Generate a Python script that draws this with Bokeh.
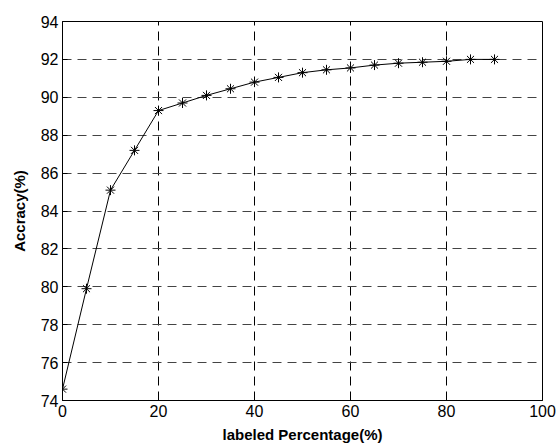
from bokeh.plotting import figure
from bokeh.models import Range1d, FixedTicker
from bokeh.embed import file_html
from bokeh.resources import INLINE

pct = [0, 5, 10, 15, 20, 25, 30, 35, 40, 45, 50, 55, 60, 65, 70, 75, 80, 85, 90]
acc = [74.6, 79.9, 85.1, 87.2, 89.3, 89.7, 90.1, 90.45, 90.8, 91.05, 91.3, 91.45,
       91.55, 91.7, 91.8, 91.85, 91.9, 92.0, 92.0]
xticks = [0, 20, 40, 60, 80, 100]
yticks = [74, 76, 78, 80, 82, 84, 86, 88, 90, 92, 94]

p = figure(width=556, height=445, output_backend="svg", toolbar_location=None,
           x_range=Range1d(0, 100), y_range=Range1d(74, 94),
           min_border_left=62, min_border_right=14, min_border_top=21, min_border_bottom=45)
p.background_fill_color = "white"
p.border_fill_color = "white"
p.outline_line_color = "black"
p.outline_line_width = 1

FONT = "Liberation Sans"
for ax, ticks in ((p.xaxis[0], xticks), (p.yaxis[0], yticks)):
    ax.ticker = FixedTicker(ticks=ticks)
    ax.major_tick_in = 5
    ax.major_tick_out = 0
    ax.minor_tick_line_color = None
    ax.axis_line_color = "black"
    ax.major_tick_line_color = "black"
    ax.major_label_text_font = FONT
    ax.major_label_text_font_size = "16px"
    ax.major_label_text_color = "black"
    ax.axis_label_text_font = FONT
    ax.axis_label_text_font_size = "15px"
    ax.axis_label_text_font_style = "bold"
    ax.axis_label_text_color = "black"

p.xaxis.major_label_standoff = 4
p.yaxis.major_label_standoff = 4
p.xaxis.axis_label = "labeled Percentage(%)"
p.yaxis.axis_label = "Accracy(%)"
p.xaxis.axis_label_standoff = 6
p.yaxis.axis_label_standoff = 10

p.xgrid.ticker = FixedTicker(ticks=xticks)
p.ygrid.ticker = FixedTicker(ticks=yticks)
for g in (p.xgrid[0], p.ygrid[0]):
    g.grid_line_color = "black"
    g.grid_line_dash = "9 6"
    g.grid_line_width = 1
p.ygrid.grid_line_color = "#444444"

p.line(pct, acc, line_color="black", line_width=1)
p.scatter(pct, acc, marker="asterisk", size=10, line_color="black", line_width=1)

open("out.html", "w").write(file_html(p, INLINE))
